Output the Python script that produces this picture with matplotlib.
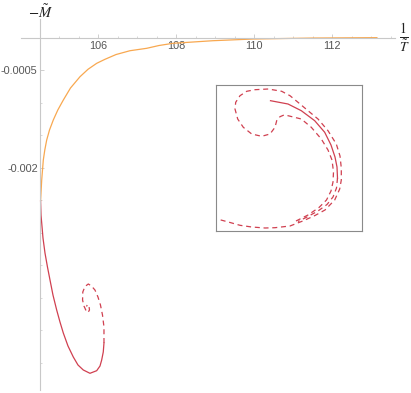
import matplotlib
matplotlib.use("Agg")
import matplotlib.pyplot as plt
import numpy as np

plt.rcParams['font.family'] = ['Liberation Sans', 'DejaVu Sans']
plt.rcParams['mathtext.fontset'] = 'stix'

# stable branch (orange)
orange_x = [113.15, 111.505, 109.967, 108.941, 107.915, 107.556, 107.241, 106.813,
            106.454, 106.172, 105.959, 105.736, 105.531, 105.287, 105.103, 104.962,
            104.846, 104.749, 104.677, 104.628, 104.590, 104.549, 104.520]
orange_y = [-0.000002, -0.000008, -0.000023, -0.000049, -0.000089, -0.000123, -0.000166,
            -0.000203, -0.000262, -0.000335, -0.000397, -0.000489, -0.000603, -0.000777,
            -0.000962, -0.001115, -0.001269, -0.001423, -0.001577, -0.001731, -0.001885,
            -0.002192, -0.002515]

# solid red branch
red_x = [104.520, 104.531, 104.549, 104.582, 104.633, 104.697, 104.762, 104.838,
         104.933, 105.018, 105.103, 105.223, 105.359, 105.479, 105.615, 105.787,
         105.959, 106.044, 106.087, 106.128, 106.146]
red_y = [-0.002515, -0.002731, -0.002854, -0.003085, -0.003315, -0.003531, -0.003731,
         -0.003962, -0.004192, -0.004377, -0.004546, -0.004746, -0.004915, -0.005038,
         -0.005115, -0.005166, -0.005126, -0.005054, -0.004962, -0.004838, -0.004700]

# dashed red spiral
spiral_x = [106.146, 106.146, 106.108, 106.056, 105.992, 105.915, 105.826, 105.744,
            105.659, 105.603, 105.597, 105.633, 105.685, 105.736, 105.774, 105.762,
            105.723, 105.697]
spiral_y = [-0.004700, -0.004454, -0.004269, -0.004115, -0.003992, -0.003885, -0.003823,
            -0.003792, -0.003831, -0.003915, -0.004038, -0.004131, -0.004200, -0.004231,
            -0.004192, -0.004131, -0.004108, -0.004138]

xticks = [106, 108, 110, 112]
yticks = [-0.0005, -0.002]
ytick_labels = ['-0.0005', '-0.002']

# inset (zoomed view, box units)
in_solid_x = [54.5, 72, 85.3, 98.7, 108.7, 115, 119, 121, 121.5]
in_solid_y = [130.3, 127, 120.3, 110.3, 98.7, 86, 74, 64, 53]
in_mid_x = [121.5, 120.5, 117, 111, 102, 90, 82]
in_mid_y = [53, 43, 34, 26.5, 20, 13.5, 9.5]
in_loop_x = [80, 92, 103, 110.5, 115, 117, 117.5, 116, 112, 105.3, 95.3, 85.3, 72, 68, 64,
             60.7, 59, 54, 45.7, 35.7, 27.3, 21.7, 19, 19.7, 24, 30.7, 39, 52.3, 65.7, 74,
             82, 92, 102, 112, 120.3, 124, 125.3, 125.3, 123.7, 118.7, 109, 99, 88, 74,
             59, 49, 35.7, 24, 12.3, 2.3]
in_loop_y = [10, 16, 23.5, 31, 40, 49, 59, 71, 81, 92, 103.7, 112, 115.3, 116, 114.3,
             110.3, 103.7, 97, 94.7, 97, 103.7, 112, 122, 128.7, 135.3, 139.7, 141.3, 142,
             139.7, 135.3, 128.7, 120.3, 112, 100.3, 87, 75, 63, 51, 42, 31, 21, 15.5,
             10.5, 5, 3.3, 3, 4, 5.7, 9, 11.7]

orange = '#f8a850'
red = '#d04050'
axis_gray = '#c8c8c8'
text_gray = '#555555'

fig = plt.figure(figsize=(4.11, 3.93), dpi=100)
ax = fig.add_axes([21 / 411, 1 - 390 / 393, (395 - 21) / 411, (390 - 19) / 393])
ax.set_xlim(104.018, 113.61)
ax.set_ylim(-0.005423, 0.000285)

ax.plot(orange_x, orange_y, color=orange, lw=0.9, solid_capstyle='round')
ax.plot(red_x, red_y, color=red, lw=0.9)
ax.plot(spiral_x, spiral_y, color=red, lw=0.9, dashes=(4, 3))

for s in ['top', 'right']:
    ax.spines[s].set_visible(False)
ax.spines['left'].set_position(('data', 104.5))
ax.spines['bottom'].set_position(('data', 0))
for s in ['left', 'bottom']:
    ax.spines[s].set_color(axis_gray)
    ax.spines[s].set_linewidth(0.8)

ax.set_xticks(xticks)
ax.set_xticks(np.arange(104.5, 113.6, 0.5), minor=True)
ax.set_yticks(yticks)
ax.set_yticklabels(ytick_labels)
ax.set_yticks(np.arange(-0.005, 0.0001, 0.0005), minor=True)
ax.tick_params(which='major', direction='in', length=3, width=0.6, color=axis_gray,
               labelsize=7.8, labelcolor=text_gray, pad=2.5)
ax.tick_params(which='minor', direction='in', length=1.5, width=0.5, color=axis_gray)
ax.tick_params(axis='y', pad=1.5)

fig.text(40 / 411, 1 - 12 / 393, r'$-\tilde{M}$', fontsize=10.5, ha='center', va='center',
         color='#222222')
fig.text(404 / 411, 1 - 38 / 393, r'$\frac{1}{\tilde{T}}$', fontsize=14, ha='center',
         va='center', color='#222222')

# inset
ins = fig.add_axes([216 / 411, 1 - 231 / 393, 146 / 411, 146 / 393])
ins.set_xlim(0, 146)
ins.set_ylim(0, 146)
ins.set_xticks([])
ins.set_yticks([])
for s in ins.spines.values():
    s.set_color('#8a8a8a')
    s.set_linewidth(0.8)
ins.plot(in_solid_x, in_solid_y, color=red, lw=0.9)
ins.plot(in_mid_x, in_mid_y, color=red, lw=0.9, dashes=(4, 3))
ins.plot(in_loop_x, in_loop_y, color=red, lw=0.9, dashes=(4, 3))

fig.savefig('out.png', dpi=100)
